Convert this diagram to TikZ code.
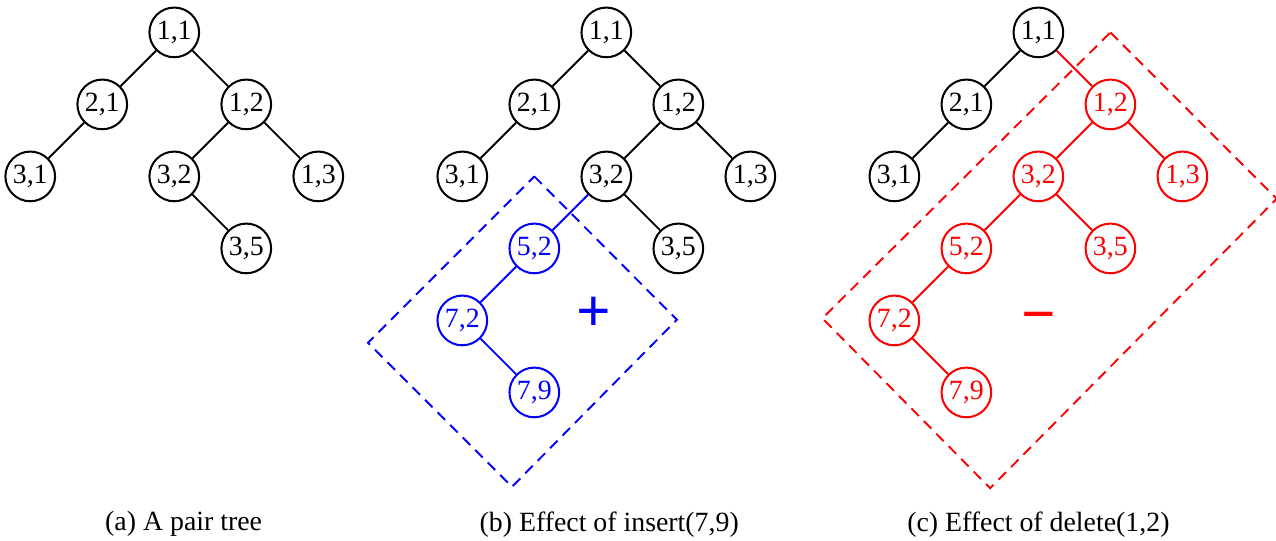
\documentclass[tikz,border=0pt]{standalone}
\usepackage{fontspec}
\setmainfont{Liberation Serif}
\usepackage{xcolor}

\tikzset{
  pnode/.style={circle, draw, line width=0.8pt, minimum size=0.69cm, inner sep=0pt,
    font=\fontsize{11}{13}\selectfont},
  link/.style={line width=0.75pt},
  region/.style={line width=0.75pt, dash pattern=on 4.2pt off 2.8pt},
  caption/.style={font=\fontsize{11}{13}\selectfont},
  sign/.style={font=\fontsize{24}{28}\selectfont\bfseries}
}

\begin{document}
\begin{tikzpicture}
  \useasboundingbox (0,0) rectangle (17.72,-7.51);
  % (a) pair tree
  \begin{scope}[shift={(2.42,-0.45)}]
    \node[pnode] (a11) at (0,0) {1,1};
    \node[pnode] (a21) at (-1,-1) {2,1};
    \node[pnode] (a12) at (1,-1) {1,2};
    \node[pnode] (a31) at (-2,-2) {3,1};
    \node[pnode] (a32) at (0,-2) {3,2};
    \node[pnode] (a13) at (2,-2) {1,3};
    \node[pnode] (a35) at (1,-3) {3,5};
  \end{scope}
  \draw[link] (a11) -- (a21);
  \draw[link] (a11) -- (a12);
  \draw[link] (a21) -- (a31);
  \draw[link] (a12) -- (a32);
  \draw[link] (a12) -- (a13);
  \draw[link] (a32) -- (a35);
  \node[caption] (capa) at (2.55,-7.28) {(a) A pair tree};

  % (b) insert(7,9)
  \begin{scope}[shift={(8.42,-0.45)}]
    \node[pnode] (b11) at (0,0) {1,1};
    \node[pnode] (b21) at (-1,-1) {2,1};
    \node[pnode] (b12) at (1,-1) {1,2};
    \node[pnode] (b31) at (-2,-2) {3,1};
    \node[pnode] (b32) at (0,-2) {3,2};
    \node[pnode] (b13) at (2,-2) {1,3};
    \node[pnode] (b35) at (1,-3) {3,5};
    \node[pnode, blue] (b52) at (-1,-3) {5,2};
    \node[pnode, blue] (b72) at (-2,-4) {7,2};
    \node[pnode, blue] (b79) at (-1,-5) {7,9};
    \coordinate (bt) at (-1,-2);
    \coordinate (br) at (0.98,-3.99);
    \coordinate (bb) at (-1.31,-6.31);
    \coordinate (bl) at (-3.31,-4.31);
    \node[sign, blue] (plus) at (-0.17,-3.92) {+};
  \end{scope}
  \draw[link] (b11) -- (b21);
  \draw[link] (b11) -- (b12);
  \draw[link] (b21) -- (b31);
  \draw[link] (b12) -- (b32);
  \draw[link] (b12) -- (b13);
  \draw[link] (b32) -- (b35);
  \draw[link, blue] (b32) -- (b52);
  \draw[link, blue] (b52) -- (b72);
  \draw[link, blue] (b72) -- (b79);
  \draw[region, blue] (bt) -- (br) -- (bb) -- (bl) -- cycle;
  \node[caption] (capb) at (8.46,-7.28) {(b) Effect of insert(7,9)};

  % (c) delete(1,2)
  \begin{scope}[shift={(14.42,-0.45)}]
    \node[pnode] (c11) at (0,0) {1,1};
    \node[pnode] (c21) at (-1,-1) {2,1};
    \node[pnode, red] (c12) at (1,-1) {1,2};
    \node[pnode] (c31) at (-2,-2) {3,1};
    \node[pnode, red] (c32) at (0,-2) {3,2};
    \node[pnode, red] (c13) at (2,-2) {1,3};
    \node[pnode, red] (c35) at (1,-3) {3,5};
    \node[pnode, red] (c52) at (-1,-3) {5,2};
    \node[pnode, red] (c72) at (-2,-4) {7,2};
    \node[pnode, red] (c79) at (-1,-5) {7,9};
    \coordinate (ct) at (1,0);
    \coordinate (cr) at (3.31,-2.31);
    \coordinate (cb) at (-0.67,-6.33);
    \coordinate (cl) at (-3,-3.97);
    \node[sign, red] (minus) at (0,-4.04) {−};
  \end{scope}
  \draw[link] (c11) -- (c21);
  \draw[link, red] (c11) -- (c12);
  \draw[link] (c21) -- (c31);
  \draw[link, red] (c12) -- (c32);
  \draw[link, red] (c12) -- (c13);
  \draw[link, red] (c32) -- (c35);
  \draw[link, red] (c32) -- (c52);
  \draw[link, red] (c52) -- (c72);
  \draw[link, red] (c72) -- (c79);
  \draw[region, red] (ct) -- (cr) -- (cb) -- (cl) -- cycle;
  \node[caption] (capc) at (14.42,-7.28) {(c) Effect of delete(1,2)};
\end{tikzpicture}
\end{document}
